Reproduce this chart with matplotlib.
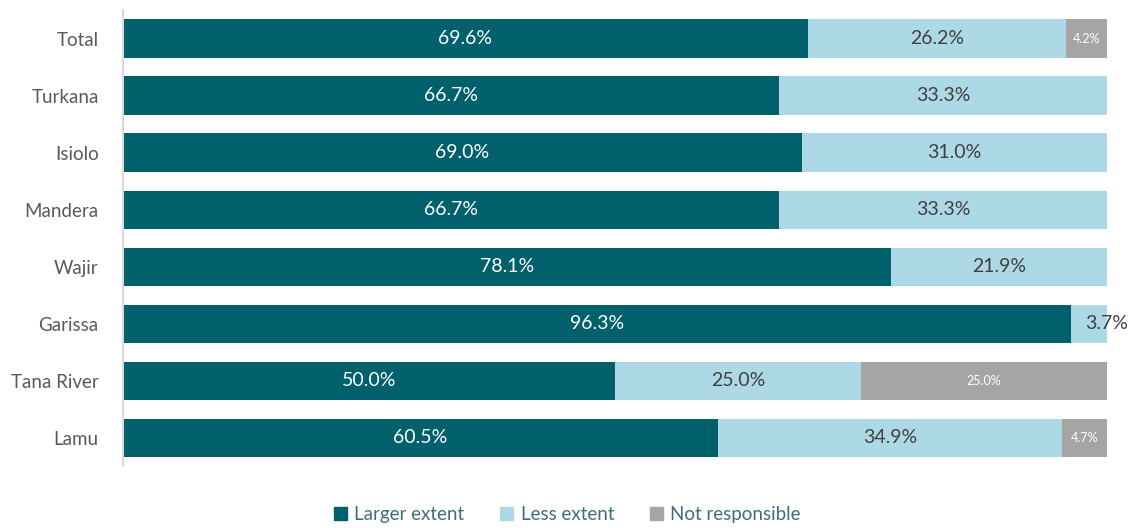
import numpy as np
import matplotlib.pyplot as plt
from matplotlib.patches import Patch

plt.rcParams['font.family'] = ['Lato', 'DejaVu Sans']

# data
regions = ['Total', 'Turkana', 'Isiolo', 'Mandera', 'Wajir', 'Garissa', 'Tana River', 'Lamu']
larger = [69.6, 66.7, 69.0, 66.7, 78.1, 96.3, 50.0, 60.5]
less = [26.2, 33.3, 31.0, 33.3, 21.9, 3.7, 25.0, 34.9]
not_resp = [4.2, 0, 0, 0, 0, 0, 25.0, 4.7]
series_names = ['Larger extent', 'Less extent', 'Not responsible']

colors = ['#00606B', '#ADD8E6', '#A5A5A5']
label_colors = ['white', '#404040', 'white']
label_sizes = [14, 14, 9]

fig = plt.figure(figsize=(11.3, 5.28), dpi=100)
ax = fig.add_axes([0.1088, 0.117, 0.8708, 0.864])

y = np.arange(len(regions))
left = np.zeros(len(regions))
for vals, col, lc, fs in zip([larger, less, not_resp], colors, label_colors, label_sizes):
    vals = np.array(vals)
    ax.barh(y, vals, left=left, height=0.67, color=col)
    for yi, l, v in zip(y, left, vals):
        if v > 0:
            # narrow light segments: label spills past the bar end
            xpos = l + v if (v < 5 and lc != 'white') else l + v / 2
            ax.text(xpos, yi, f'{v:.1f}%', ha='center', va='center',
                    color=lc, fontsize=fs)
    left = left + vals

ax.set_xlim(0, 100)
ax.set_ylim(len(regions) - 0.5, -0.5)
ax.set_yticks(y)
ax.set_yticklabels(regions, fontsize=13.5, color='#595959')
ax.tick_params(axis='y', length=0, pad=17.5)
ax.set_xticks([])
for s in ['top', 'right', 'bottom']:
    ax.spines[s].set_visible(False)
ax.spines['left'].set_color('#D9D9D9')
ax.spines['left'].set_linewidth(1.5)

handles = [Patch(color=c) for c in colors]
fig.legend(handles, series_names, loc='center', bbox_to_anchor=(0.502, 0.026),
           ncol=3, frameon=False, fontsize=13.5, handlelength=0.7, handleheight=0.7,
           columnspacing=1.9, handletextpad=0.4, labelcolor='#3E6E76')

plt.savefig('out.png', dpi=100)
